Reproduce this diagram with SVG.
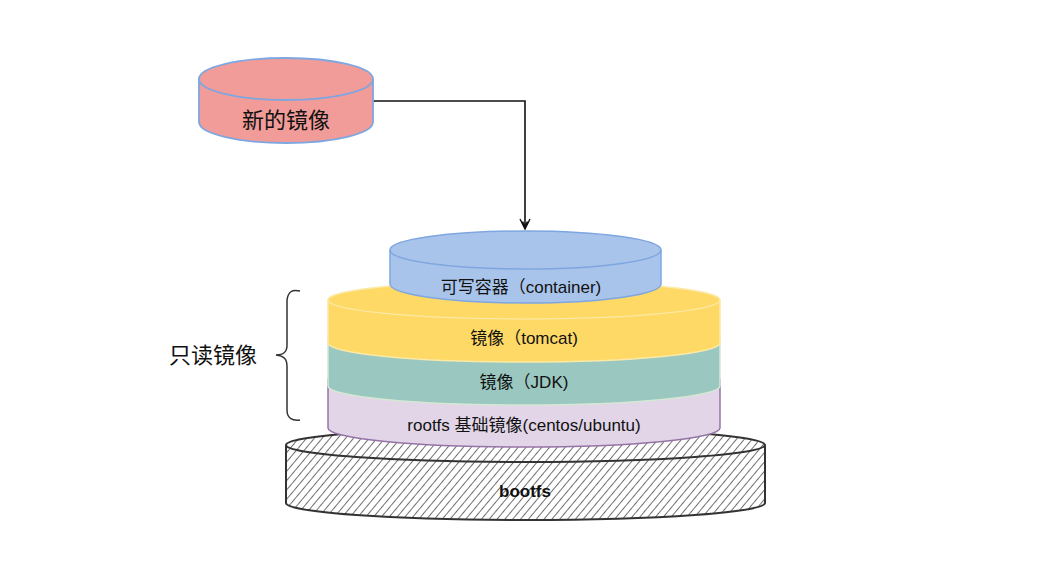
<svg xmlns="http://www.w3.org/2000/svg" width="1044" height="568" viewBox="0 0 1044 568">
<style>
text{font-family:"Liberation Sans","Noto Sans CJK SC",sans-serif;fill:#111;text-anchor:middle;dominant-baseline:central}
.big{font-size:22px}
.mid{font-size:17px}
.rim{fill:none}
</style>
<defs>
<pattern id="hatch" patternUnits="userSpaceOnUse" width="6" height="6" patternTransform="rotate(40)">
<rect width="6" height="6" fill="#fff"/>
<line x1="0" y1="0" x2="0" y2="6" stroke="#333" stroke-width="1.4"/>
</pattern>
<marker id="arr" markerWidth="16" markerHeight="14" refX="15" refY="7" orient="auto" markerUnits="userSpaceOnUse" viewBox="0 0 16 14">
<path d="M5,2 L15,7 L5,12 M7.5,4.5 L12,7 L7.5,9.5" fill="none" stroke="#111" stroke-width="1.4"/>
</marker>
</defs>
<rect width="1044" height="568" fill="#fff"/>

<g id="connectors">
<path d="M373,101 L525,101 L525,229" fill="none" stroke="#111" stroke-width="1.6" marker-end="url(#arr)"/>
</g>

<g id="bootfs">
<path d="M286,445 A239.5,17 0 0 1 765,445 L765,503 A239.5,17 0 0 1 286,503 Z" fill="url(#hatch)" stroke="#333" stroke-width="2"/>
<path class="rim" d="M286,445 A239.5,17 0 0 0 765,445" stroke="#333" stroke-width="2"/>
<text x="525" y="491" class="mid" font-weight="bold">bootfs</text>
</g>

<g id="rootfs">
<path d="M328,380 A196,19 0 0 1 720,380 L720,428 A196,19 0 0 1 328,428 Z" fill="#E1D5E7" stroke="#9673A6" stroke-width="1.5"/>
<text x="524" y="425" class="mid">rootfs 基础镜像(centos/ubuntu)</text>
</g>

<g id="jdk">
<path d="M328,340 A196,19 0 0 1 720,340 L720,386 A196,19 0 0 1 328,386 Z" fill="#9AC7BF" stroke="#d5e8d4" stroke-width="1.5"/>
<text x="524" y="382" class="mid">镜像（JDK)</text>
</g>

<g id="tomcat">
<path d="M328,300 A196,19 0 0 1 720,300 L720,343 A196,19 0 0 1 328,343 Z" fill="#FFD966" stroke="#fbe9a6" stroke-width="1.5"/>
<path class="rim" d="M328,300 A196,19 0 0 0 720,300" stroke="#fbe9a6" stroke-width="1.2"/>
<text x="524" y="338" class="mid">镜像（tomcat)</text>
</g>

<g id="container">
<path d="M390,250 A135.5,19 0 0 1 661,250 L661,284 A135.5,19 0 0 1 390,284 Z" fill="#A9C4EB" stroke="#7EA6E0" stroke-width="1.5"/>
<path class="rim" d="M390,250 A135.5,19 0 0 0 661,250" stroke="#7EA6E0" stroke-width="1.5"/>
<text x="521" y="287" class="mid">可写容器（container)</text>
</g>

<g id="new-image">
<path d="M199,79 A87,21 0 0 1 373,79 L373,122 A87,21 0 0 1 199,122 Z" fill="#F19C99" stroke="#7EA6E0" stroke-width="1.8"/>
<path class="rim" d="M199,79 A87,21 0 0 0 373,79" stroke="#7EA6E0" stroke-width="1.8"/>
<text x="286" y="120" class="big">新的镜像</text>
</g>

<g id="readonly-label">
<path d="M300,291 C292,289 288,292 287,300 L287,345 C287,352 284,355 276,355 C284,356 287,359 287,366 L287,410 C287,418 292,421 300,420" fill="none" stroke="#333" stroke-width="1.5"/>
<text x="213" y="355" class="big">只读镜像</text>
</g>
</svg>
